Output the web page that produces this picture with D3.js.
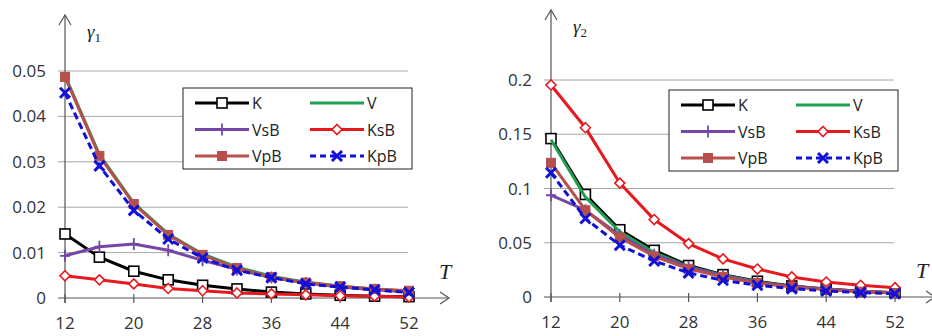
<!DOCTYPE html>
<html>
<head>
<meta charset="utf-8">
<script src="https://d3js.org/d3.v7.min.js"></script>
<style>
  body { margin: 0; background: #fff; }
  svg { display: block; }
  .grid line { stroke: #a6a6a6; stroke-width: 1; }
  .tick-label { font-family: "Open Sans", sans-serif; font-size: 17px; fill: #333; }
  .axis-line { stroke: #555; stroke-width: 1.2; fill: none; }
  .leg-text { font-family: "Open Sans", sans-serif; font-size: 16px; fill: #222; }
  .math { font-family: "Liberation Serif", serif; font-style: italic; fill: #222; }
</style>
</head>
<body>
<svg id="chart" width="932" height="336"></svg>
<script>
  // T values (x axis)
  var T = [12, 16, 20, 24, 28, 32, 36, 40, 44, 48, 52];
  var xTicks = [12, 20, 28, 36, 44, 52];

  var seriesNames = ['K', 'V', 'VsB', 'KsB', 'VpB', 'KpB'];

  // gamma 1 (left chart)
  var g1K   = [0.0141, 0.0090, 0.0059, 0.0040, 0.0028, 0.0020, 0.0013, 0.0009, 0.0006, 0.0004, 0.0003];
  var g1V   = [0.0490, 0.0316, 0.0209, 0.0141, 0.0097, 0.0068, 0.0048, 0.0035, 0.0026, 0.0020, 0.0015];
  var g1VsB = [0.0093, 0.0113, 0.0119, 0.0105, 0.0083, 0.0063, 0.0045, 0.0033, 0.0024, 0.0018, 0.0013];
  var g1KsB = [0.0049, 0.0040, 0.0031, 0.0021, 0.0016, 0.0011, 0.0009, 0.0007, 0.0005, 0.0004, 0.0002];
  var g1VpB = [0.0487, 0.0313, 0.0207, 0.0139, 0.0095, 0.0066, 0.0046, 0.0034, 0.0026, 0.0020, 0.0016];
  var g1KpB = [0.0452, 0.0291, 0.0193, 0.0130, 0.0088, 0.0061, 0.0045, 0.0031, 0.0024, 0.0018, 0.0012];
  var g1Ticks = [0, 0.01, 0.02, 0.03, 0.04, 0.05];
  var g1Labels = ['0', '0.01', '0.02', '0.03', '0.04', '0.05'];

  // gamma 2 (right chart)
  var g2K   = [0.146, 0.0945, 0.062, 0.043, 0.029, 0.0206, 0.0145, 0.0102, 0.0074, 0.0052, 0.0040];
  var g2V   = [0.145, 0.092, 0.060, 0.041, 0.028, 0.020, 0.014, 0.0098, 0.0071, 0.0051, 0.0039];
  var g2VsB = [0.0938, 0.080, 0.057, 0.039, 0.0277, 0.0197, 0.0135, 0.0098, 0.0071, 0.0052, 0.0040];
  var g2KsB = [0.1954, 0.156, 0.105, 0.0714, 0.0492, 0.0351, 0.0258, 0.0185, 0.0138, 0.0108, 0.0086];
  var g2VpB = [0.1237, 0.080, 0.0548, 0.0375, 0.026, 0.0185, 0.0129, 0.0092, 0.0068, 0.0049, 0.0037];
  var g2KpB = [0.1145, 0.0723, 0.0477, 0.0332, 0.0222, 0.0154, 0.0108, 0.0077, 0.0055, 0.0040, 0.0030];
  var g2Ticks = [0, 0.05, 0.1, 0.15, 0.2];
  var g2Labels = ['0', '0.05', '0.1', '0.15', '0.2'];

  var styles = {
    K:   { color: '#000000', marker: 'square', dash: null },
    V:   { color: '#1fa050', marker: null, dash: null },
    VsB: { color: '#7446a6', marker: 'plus', dash: null },
    KsB: { color: '#e8191e', marker: 'diamond', dash: null },
    VpB: { color: '#b5504c', marker: 'fsquare', dash: null },
    KpB: { color: '#1010d8', marker: 'cross', dash: '7,4' }
  };

  var svg = d3.select('#chart');

  function drawMarker(sel, kind, color) {
    if (kind === 'square') {
      sel.append('rect').attr('x', -5).attr('y', -5).attr('width', 10).attr('height', 10)
        .attr('fill', '#fff').attr('stroke', color).attr('stroke-width', 1.6);
    } else if (kind === 'fsquare') {
      sel.append('rect').attr('x', -4.5).attr('y', -4.5).attr('width', 9).attr('height', 9)
        .attr('fill', color).attr('stroke', color).attr('stroke-width', 1);
    } else if (kind === 'diamond') {
      sel.append('path').attr('d', 'M0,-5L5,0L0,5L-5,0Z')
        .attr('fill', '#fff').attr('stroke', color).attr('stroke-width', 1.6);
    } else if (kind === 'plus') {
      sel.append('path').attr('d', 'M-5,0H5M0,-6V6')
        .attr('stroke', color).attr('stroke-width', 1.8);
    } else if (kind === 'cross') {
      sel.append('path').attr('d', 'M-5,-5L5,5M5,-5L-5,5')
        .attr('stroke', color).attr('stroke-width', 3);
    }
  }

  function drawChart(o) {
    var g = svg.append('g');
    var x = d3.scaleLinear().domain([12, 52]).range([o.x0, o.x0 + 344]);
    var y = d3.scaleLinear().domain([0, o.ymax]).range([o.y0, o.ytop]);

    // gridlines
    g.append('g').attr('class', 'grid').selectAll('line')
        .data(o.ticks.slice(1))
      .enter().append('line')
        .attr('x1', o.x0 - 7).attr('x2', o.x0 + 343)
        .attr('y1', function(d) { return y(d); })
        .attr('y2', function(d) { return y(d); });

    // y tick labels
    g.selectAll('text.ylab')
        .data(o.ticks)
      .enter().append('text')
        .attr('class', 'tick-label')
        .attr('text-anchor', 'end')
        .attr('x', o.x0 - 19)
        .attr('y', function(d) { return y(d) + 6; })
        .text(function(d, i) { return o.labels[i]; });

    // x axis with arrow
    g.append('line').attr('class', 'axis-line')
      .attr('x1', o.x0 - 7).attr('x2', o.xArrow).attr('y1', y(0)).attr('y2', y(0));
    g.append('path').attr('class', 'axis-line')
      .attr('d', 'M' + (o.xArrow - 9) + ',' + (y(0) - 6) + 'L' + o.xArrow + ',' + y(0) + 'L' + (o.xArrow - 9) + ',' + (y(0) + 6));
    g.selectAll('line.xt')
        .data(xTicks)
      .enter().append('line')
        .attr('class', 'axis-line')
        .attr('x1', function(d) { return x(d); }).attr('x2', function(d) { return x(d); })
        .attr('y1', y(0) - 4).attr('y2', y(0) + 5);
    g.selectAll('text.xlab')
        .data(xTicks)
      .enter().append('text')
        .attr('class', 'tick-label')
        .attr('text-anchor', 'middle')
        .attr('x', function(d) { return x(d); })
        .attr('y', y(0) + 31)
        .text(function(d) { return d; });

    // y axis with arrow
    g.append('line').attr('class', 'axis-line')
      .attr('x1', o.x0).attr('x2', o.x0).attr('y1', y(0) + 5).attr('y2', o.yArrow);
    g.append('path').attr('class', 'axis-line')
      .attr('d', 'M' + (o.x0 - 6) + ',' + (o.yArrow + 10) + 'L' + o.x0 + ',' + o.yArrow + 'L' + (o.x0 + 6) + ',' + (o.yArrow + 10));

    // axis titles
    var yt = g.append('text').attr('class', 'math').attr('x', o.x0 + 22).attr('y', o.yArrow + 23)
      .style('font-size', '19px');
    yt.append('tspan').text('\u03b3');
    yt.append('tspan').attr('dy', 4).style('font-size', '13px').style('font-style', 'normal').text(o.sub);
    g.append('text').attr('class', 'math').attr('x', o.tX).attr('y', y(0) - 19)
      .style('font-size', '22px').text('T');

    // series
    var line = d3.line()
      .x(function(d) { return x(d[0]); })
      .y(function(d) { return y(d[1]); });

    seriesNames.forEach(function(name, i) {
      var st = styles[name];
      var pts = T.map(function(t, j) { return [t, o.data[i][j]]; });
      var sg = g.append('g');
      sg.append('path')
        .datum(pts)
        .attr('d', line)
        .attr('fill', 'none')
        .attr('stroke', st.color)
        .attr('stroke-width', 3)
        .attr('stroke-dasharray', st.dash);
      if (st.marker) {
        sg.selectAll('g.m')
            .data(pts)
          .enter().append('g')
            .attr('transform', function(d) { return 'translate(' + x(d[0]) + ',' + y(d[1]) + ')'; })
            .each(function() { drawMarker(d3.select(this), st.marker, st.color); });
      }
    });

    // legend
    var lg = g.append('g').attr('transform', 'translate(' + o.legX + ',' + o.legY + ')');
    lg.append('rect').attr('width', 229).attr('height', 81)
      .attr('fill', '#fff').attr('stroke', '#222').attr('stroke-width', 1);
    var order = ['K', 'V', 'VsB', 'KsB', 'VpB', 'KpB'];
    order.forEach(function(name, i) {
      var st = styles[name];
      var col = i % 2, row = Math.floor(i / 2);
      var lx = 12 + col * 115, ly = 15 + row * 26.5;
      var item = lg.append('g').attr('transform', 'translate(' + lx + ',' + ly + ')');
      item.append('line').attr('x1', 0).attr('x2', 54).attr('y1', 0).attr('y2', 0)
        .attr('stroke', st.color).attr('stroke-width', 3)
        .attr('stroke-dasharray', st.dash ? '6,4' : null);
      if (st.marker) {
        drawMarker(item.append('g').attr('transform', 'translate(27,0)'), st.marker, st.color);
      }
      item.append('text').attr('class', 'leg-text').attr('x', 57).attr('y', 6).text(name);
    });
  }

  drawChart({
    x0: 65, y0: 298, ytop: 71, ymax: 0.05, xArrow: 449, yArrow: 15, tX: 439,
    ticks: g1Ticks, labels: g1Labels, sub: '1',
    data: [g1K, g1V, g1VsB, g1KsB, g1VpB, g1KpB],
    legX: 183, legY: 88
  });
  drawChart({
    x0: 551, y0: 297, ytop: 80, ymax: 0.2, xArrow: 935, yArrow: 10, tX: 916,
    ticks: g2Ticks, labels: g2Labels, sub: '2',
    data: [g2K, g2V, g2VsB, g2KsB, g2VpB, g2KpB],
    legX: 669, legY: 90
  });
</script>
</body>
</html>
